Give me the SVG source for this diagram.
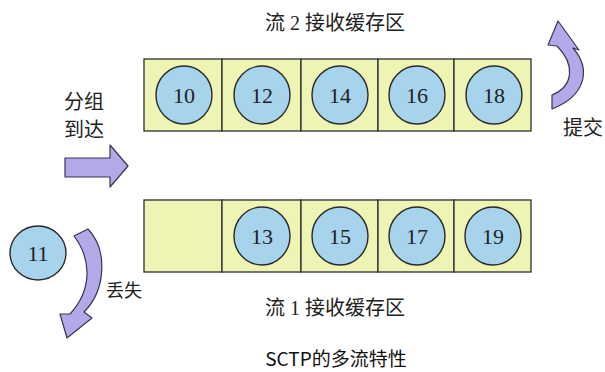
<svg xmlns="http://www.w3.org/2000/svg" width="605" height="372" viewBox="0 0 605 372">
<style>
.cell{fill:#edf4b4;stroke:#2e2e2e;stroke-width:1.3}
.pkt{fill:#a7d3ec;stroke:#2a2a2a;stroke-width:1.4}
.num{font-family:"Liberation Serif",serif;font-size:22px;fill:#222;text-anchor:middle}
.lbl{font-family:"Liberation Serif","Noto Sans CJK SC",serif;font-size:20px;fill:#222}
.cap{font-family:"Noto Sans CJK SC",sans-serif;font-size:19px;fill:#111;text-anchor:middle}
.arr{fill:#b2a9e8;stroke:#3a3550;stroke-width:1.2;stroke-linejoin:round}
</style>
<rect width="605" height="372" fill="#ffffff"/>
<g id="buffer2">
<rect class="cell" x="144" y="59" width="78" height="72"/>
<rect class="cell" x="222" y="59" width="79" height="72"/>
<rect class="cell" x="301" y="59" width="77" height="72"/>
<rect class="cell" x="378" y="59" width="76" height="72"/>
<rect class="cell" x="454" y="59" width="77" height="72"/>
<text class="lbl" x="335" y="30" text-anchor="middle">流 2 接收缓存区</text>
</g>
<g id="p10"><ellipse class="pkt" cx="184" cy="95" rx="28" ry="29"/><text class="num" x="184" y="103">10</text></g>
<g id="p12"><ellipse class="pkt" cx="262" cy="95" rx="28" ry="29"/><text class="num" x="262" y="103">12</text></g>
<g id="p14"><ellipse class="pkt" cx="340" cy="95" rx="28" ry="29"/><text class="num" x="340" y="103">14</text></g>
<g id="p16"><ellipse class="pkt" cx="417" cy="95" rx="28" ry="29"/><text class="num" x="417" y="103">16</text></g>
<g id="p18"><ellipse class="pkt" cx="494" cy="95" rx="28" ry="29"/><text class="num" x="494" y="103">18</text></g>
<g id="buffer1">
<rect class="cell" x="144" y="200" width="78" height="72"/>
<rect class="cell" x="222" y="200" width="79" height="72"/>
<rect class="cell" x="301" y="200" width="77" height="72"/>
<rect class="cell" x="378" y="200" width="76" height="72"/>
<rect class="cell" x="454" y="200" width="77" height="72"/>
<text class="lbl" x="335" y="315" text-anchor="middle">流 1 接收缓存区</text>
</g>
<g id="p13"><ellipse class="pkt" cx="262" cy="236" rx="28" ry="29"/><text class="num" x="262" y="244">13</text></g>
<g id="p15"><ellipse class="pkt" cx="340" cy="236" rx="28" ry="29"/><text class="num" x="340" y="244">15</text></g>
<g id="p17"><ellipse class="pkt" cx="417" cy="236" rx="28" ry="29"/><text class="num" x="417" y="244">17</text></g>
<g id="p19"><ellipse class="pkt" cx="493" cy="236" rx="28" ry="29"/><text class="num" x="493" y="244">19</text></g>
<g id="p11"><ellipse class="pkt" cx="38" cy="253" rx="28" ry="27"/><text class="num" x="38" y="261">11</text></g>
<g id="connectors">
<path class="arr" d="M65 158 L110 158 L110 145 L128 166 L110 187 L110 177 L65 177 Z"/>
<path class="arr" d="M552 109 C585 96 592 70 573 48 L579 50 L558 21 L548 45 L557 46 C575 64 574 86 552 95 Z"/>
<path class="arr" d="M74 236 L88 229 C108 250 106 290 84 312 L92 318 L67 338 L60 314 L70 314 C92 290 92 260 74 236 Z"/>
</g>
<g id="labels">
<text class="lbl" x="64" y="109">分组</text>
<text class="lbl" x="64" y="137">到达</text>
<text class="lbl" x="563" y="135">提交</text>
<text class="lbl" x="106" y="297" style="font-size:18px">丢失</text>
<text class="cap" x="336" y="366">SCTP的多流特性</text>
</g>
</svg>
